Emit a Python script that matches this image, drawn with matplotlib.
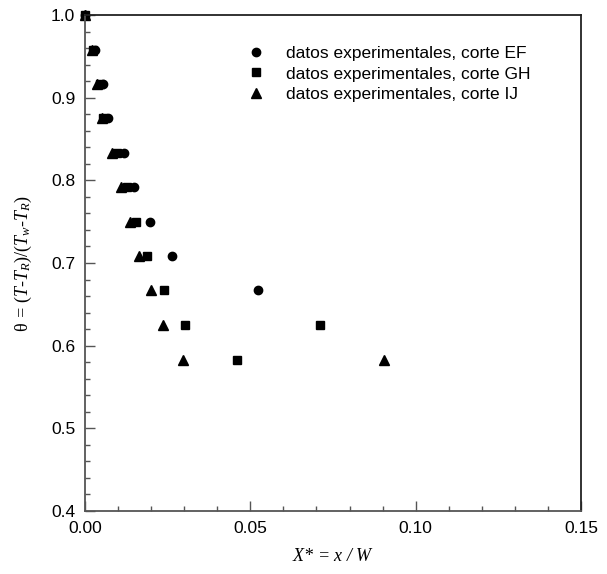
import matplotlib
matplotlib.use('Agg')
import matplotlib.pyplot as plt
from matplotlib.ticker import MultipleLocator

# theta levels and x positions
theta_ef = [1.000, 0.958, 0.917, 0.875, 0.833, 0.792, 0.750, 0.708, 0.667]
x_ef = [0.0, 0.0030, 0.0055, 0.0070, 0.0117, 0.0148, 0.0197, 0.0263, 0.0523]

theta_gh = [1.000, 0.958, 0.917, 0.875, 0.833, 0.792, 0.750, 0.708, 0.667, 0.625, 0.583, 0.625]
x_gh = [0.0, 0.0025, 0.0045, 0.0054, 0.0097, 0.0126, 0.0154, 0.0187, 0.0239, 0.0302, 0.0460, 0.0710]

theta_ij = [1.000, 0.958, 0.917, 0.875, 0.833, 0.792, 0.750, 0.708, 0.667, 0.625, 0.583, 0.583]
x_ij = [0.0, 0.0020, 0.0036, 0.0050, 0.0082, 0.0108, 0.0136, 0.0163, 0.0200, 0.0236, 0.0297, 0.0905]

labels = ['datos experimentales, corte EF',
          'datos experimentales, corte GH',
          'datos experimentales, corte IJ']

plt.rcParams['font.family'] = ['Liberation Sans', 'DejaVu Sans']
plt.rcParams['mathtext.fontset'] = 'custom'
plt.rcParams['mathtext.it'] = 'Liberation Serif:italic'
plt.rcParams['mathtext.rm'] = 'Liberation Serif'

fig = plt.figure(figsize=(6.07, 5.74), dpi=100)
ax = fig.add_axes([85 / 607, 63 / 574, 496 / 607, 496 / 574])

# squares drawn last so they sit on top, as in the reference
h_ef, = ax.plot(x_ef, theta_ef, 'o', color='black', markersize=6, clip_on=False)
h_ij, = ax.plot(x_ij, theta_ij, '^', color='black', markersize=6.5, clip_on=False)
h_gh, = ax.plot(x_gh, theta_gh, 's', color='black', markersize=6, clip_on=False)

ax.set_xlim(0, 0.15)
ax.set_ylim(0.4, 1.0)
ax.xaxis.set_minor_locator(MultipleLocator(0.01))
ax.yaxis.set_minor_locator(MultipleLocator(0.02))
ax.set_xticks([0.0, 0.05, 0.10, 0.15])
ax.set_xticklabels(['0.00', '0.05', '0.10', '0.15'])
ax.set_yticks([0.4, 0.5, 0.6, 0.7, 0.8, 0.9, 1.0])
ax.set_yticklabels(['0.4', '0.5', '0.6', '0.7', '0.8', '0.9', '1.0'])

ax.tick_params(which='both', direction='in', labelsize=12.5, color='#555555')
ax.tick_params(which='major', length=7, width=1, pad=7)
ax.tick_params(which='minor', length=3.6, width=1)
for side in ['left', 'bottom']:
    ax.spines[side].set_color('#555555')
    ax.spines[side].set_linewidth(1.3)
for side in ['top', 'right']:
    ax.spines[side].set_color('#222222')
    ax.spines[side].set_linewidth(1.3)

ax.set_xlabel('$X$* = $x$ / $W$', fontsize=13, family='Liberation Serif',
              style='italic', labelpad=9)
ax.set_ylabel(r'$\mathrm{\theta}$ = $(T$-$T_R)/(T_w$-$T_R)$', fontsize=13,
              family='Liberation Serif', style='italic', labelpad=12)

ax.legend([h_ef, h_gh, h_ij], labels,
          loc='upper left', bbox_to_anchor=(0.31, 0.955), frameon=False,
          fontsize=12.5, handlelength=1.0, handletextpad=1.2,
          labelspacing=0.3, borderpad=0)

fig.savefig('out.png', dpi=100)
